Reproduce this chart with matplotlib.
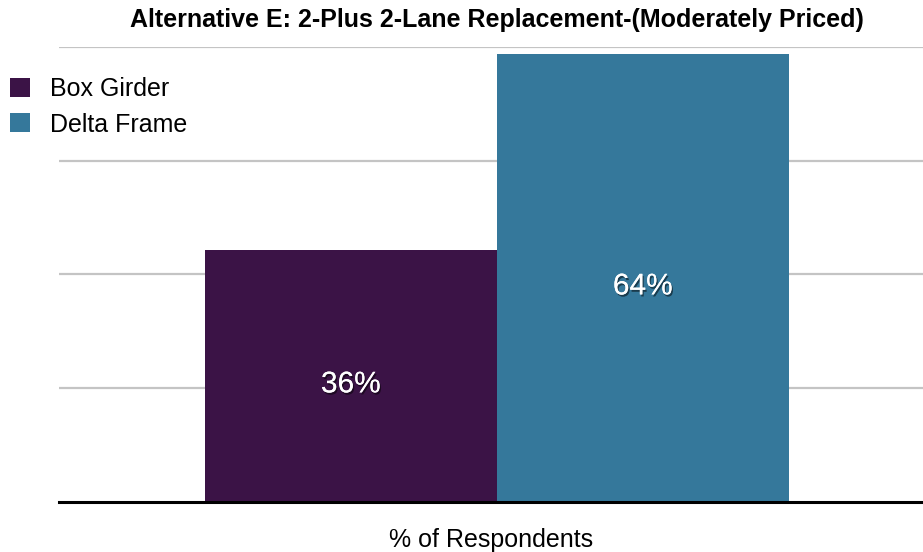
import numpy as np
import matplotlib.pyplot as plt
import matplotlib.patheffects as pe

plt.rcParams['font.family'] = ['Liberation Sans', 'DejaVu Sans']

categories = ['Box Girder', 'Delta Frame']
values = [36, 64]
colors = ['#3b1346', '#35789b']
gridvals = [16.25, 32.5, 48.75, 65]

fig = plt.figure(figsize=(9.23, 5.52), dpi=100)
ax = fig.add_axes([0.0639, 0.0906, 0.9361, 0.8243])

x = np.arange(len(values))
bars = ax.bar(x, values, width=1.0, color=colors, label=categories, zorder=2)

for g in gridvals:
    ax.axhline(g, color='#c4c4c4', linewidth=1.6, zorder=1)

shadow = [pe.withSimplePatchShadow(offset=(1, -1.5), shadow_rgbFace='black', alpha=0.5), pe.Normal()]
for xi, v in zip(x, values):
    ax.text(xi, v / 2 - 1.2, f'{v}%', ha='center', va='center', color='white',
            fontsize=21.5, path_effects=shadow, zorder=3)

ax.set_xlim(-1.0, 1.96)
ax.set_ylim(0, 65)
ax.set_xticks([])
ax.set_yticks([])
for s in ['top', 'right', 'left']:
    ax.spines[s].set_visible(False)
ax.spines['bottom'].set_linewidth(2.2)
ax.spines['bottom'].set_color('black')
ax.spines['bottom'].set_zorder(4)

ax.set_xlabel('% of Respondents', fontsize=18, labelpad=18.5)
fig.text(0.538, 0.963, 'Alternative E: 2-Plus 2-Lane Replacement-(Moderately Priced)',
         ha='center', va='center', fontsize=18, fontweight='bold')

fig.legend(handles=bars.patches, labels=categories, loc='upper left',
           bbox_to_anchor=(0.011, 0.86), frameon=False, fontsize=18,
           handlelength=0.8, handleheight=0.8, handletextpad=0.8,
           labelspacing=0.45, borderaxespad=0.0, borderpad=0.0)

fig.savefig('out.png', dpi=100)
